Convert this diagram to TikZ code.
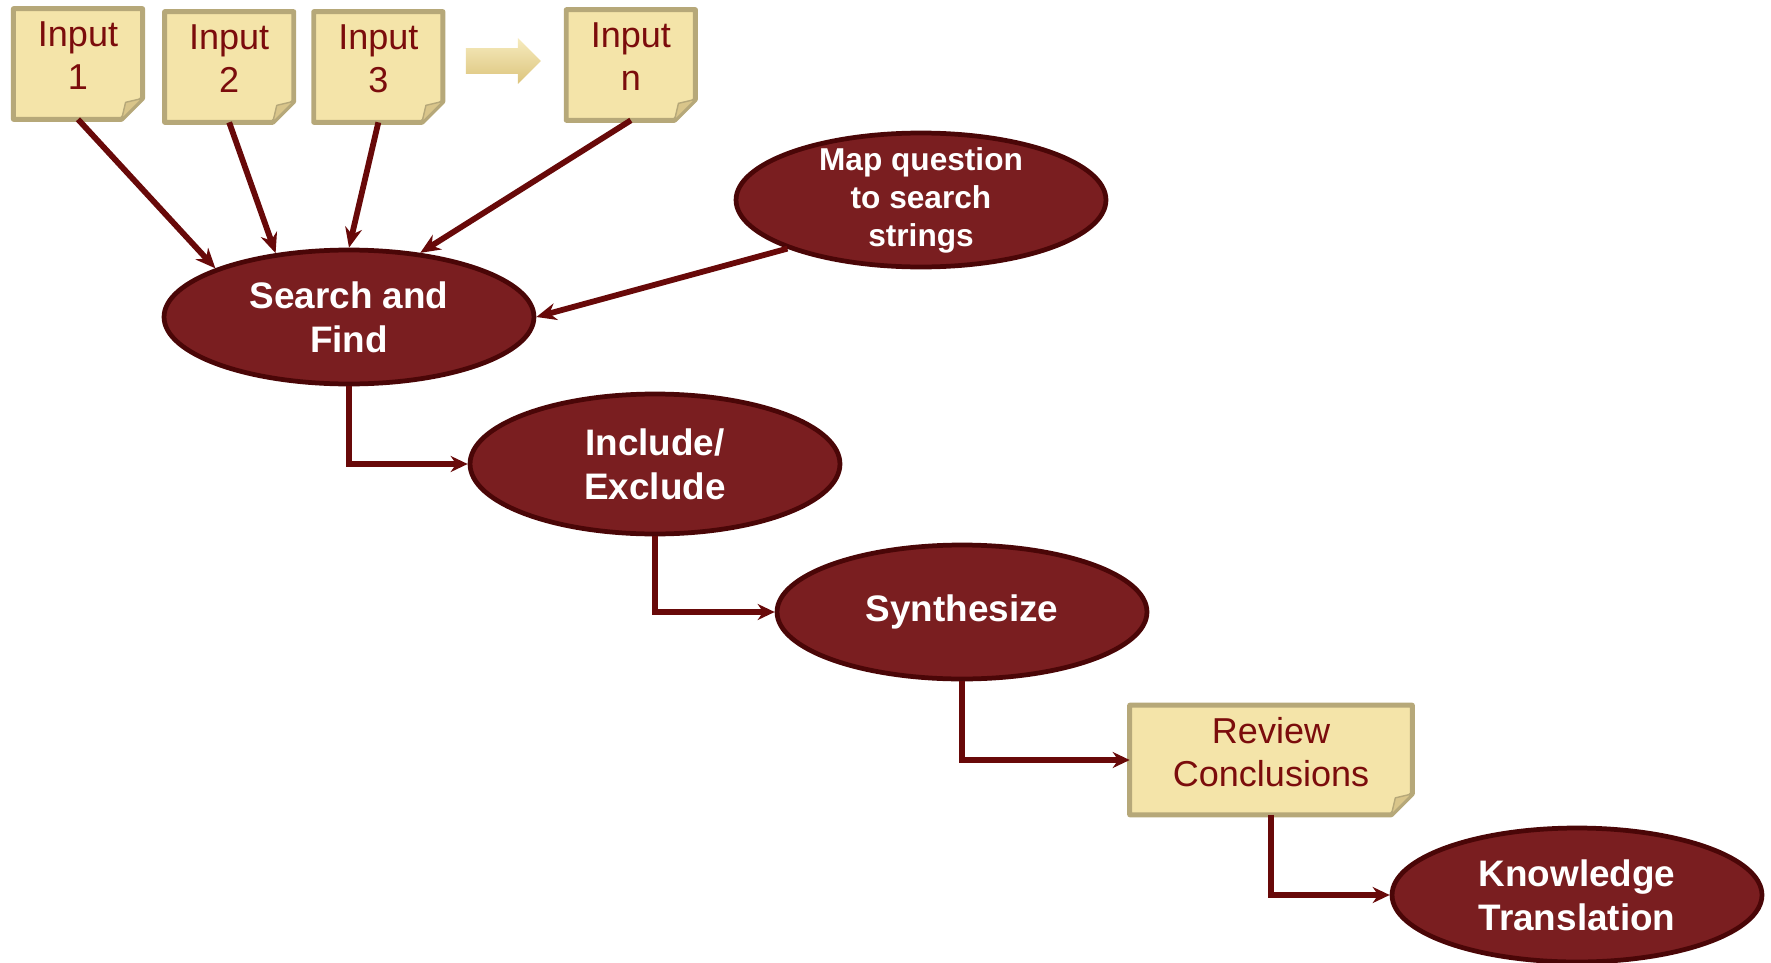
\documentclass[tikz,border=0pt]{standalone}
\usepackage{fontspec}
\setmainfont{Liberation Sans}
\usetikzlibrary{arrows.meta,positioning,calc,backgrounds,shapes.geometric,shapes.arrows}
\definecolor{wine}{HTML}{7A1E20}
\definecolor{wineline}{HTML}{4A0607}
\definecolor{paper}{HTML}{F4E4A9}
\definecolor{paperline}{HTML}{B6A879}
\definecolor{paperfold}{HTML}{D9C58A}
\definecolor{goldlight}{HTML}{F6EBBE}
\definecolor{gold}{HTML}{DCC47C}
\definecolor{inkred}{HTML}{7B0C0C}
\definecolor{linkred}{HTML}{680909}
\begin{document}
\begin{tikzpicture}[x=0.02cm,y=-0.02cm,
oval/.style={ellipse,draw=wineline,line width=2.7pt,fill=wine,text=white,
minimum width=7.4cm,minimum height=2.68cm,inner sep=0pt,align=center,
font=\fontsize{21}{25}\selectfont\bfseries},
note/.style={rectangle,minimum width=2.57cm,minimum height=2.2cm,inner sep=0pt,
align=center,text depth=0.32cm,text=inkred,font=\fontsize{20.5}{24.5}\selectfont},
paperedge/.style={draw=paperline,line width=2.8pt,fill=paper,line join=round},
link/.style={-{Stealth[length=0.4cm,width=0.34cm]},line width=3.3pt,draw=linkred},
elbow/.style={-{Stealth[length=0.34cm,width=0.32cm]},line width=3pt,draw=linkred}]
\useasboundingbox (0,0) rectangle (1771,963);
% inputs
\node[note] (in1) at (78,64) {Input\\1};
\node[note,right=0.44cm of in1,yshift=-0.06cm] (in2) {Input\\2};
\node[note,right=0.4cm of in2] (in3) {Input\\3};
\node[single arrow,minimum height=1.5cm,inner sep=0.25cm,
single arrow head extend=0.2cm,draw=none,top color=goldlight,bottom color=gold,
right=0.45cm of in3,yshift=0.12cm] (more) {};
\node[note,right=0.5cm of more,yshift=-0.08cm] (inn) {Input\\n};
\node[note,minimum width=5.64cm,minimum height=2.18cm] (review) at (1271,760) {Review\\Conclusions};
\begin{scope}[on background layer]
\foreach \n in {in1,in2,in3,inn,review}
\filldraw[paperedge] (\n.north west) -- (\n.north east) -- ($(\n.south east)+(0,0.42cm)$)
-- ($(\n.south east)+(-0.42cm,0)$) -- (\n.south west) -- cycle;
\end{scope}
\foreach \n in {in1,in2,in3,inn,review}
\filldraw[fill=paperfold,draw=paperline,line width=0.8pt,line join=round]
($(\n.south east)+(-0.42cm,0)$) -- ($(\n.south east)+(0,0.42cm)$)
-- ($(\n.south east)+(-0.34cm,0.34cm)$) -- cycle;
% process
\node[oval,inner sep=-0.15cm,font=\fontsize{18}{21.6}\selectfont\bfseries] (map) at (921,200) {Map question\\to search\\strings};
\node[oval] (search) at (349,317) {Search and\\Find};
\node[oval,minimum height=2.8cm] (include) at (655,464) {Include/\\Exclude};
\node[oval,yshift=-0.04cm] (synth) at (962,610) {Synthesize};
\node[oval] (know) at (1577,895) {Knowledge\\Translation};
\draw[link] (in1.south) -- (search.160);
\draw[link] (in2.south) -- (search.139);
\draw[link] (in3.south) -- (search.north);
\draw[link] (inn.south) -- (search.42);
\draw[link] (map.200) -- (search.east);
\draw[elbow] (search.south) |- (include.west);
\draw[elbow] (include.south) |- (synth.west);
\draw[elbow] (synth.south) |- (review.west);
\draw[elbow] (review.south) |- (know.west);
\end{tikzpicture}
\end{document}
